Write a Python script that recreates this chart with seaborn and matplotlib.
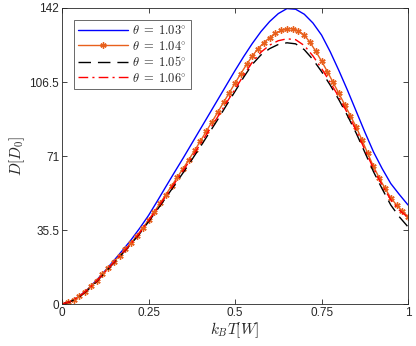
import numpy as np
import pandas as pd
import matplotlib
matplotlib.use("Agg")
import matplotlib.pyplot as plt
import seaborn as sns

# data
kT = [0, 0.025, 0.05, 0.075, 0.1, 0.125, 0.15, 0.175, 0.2, 0.225,
      0.25, 0.275, 0.3, 0.325, 0.35, 0.375, 0.4, 0.425, 0.45, 0.475,
      0.5, 0.525, 0.55, 0.575, 0.6, 0.625, 0.65, 0.675, 0.7, 0.725,
      0.75, 0.775, 0.8, 0.825, 0.85, 0.875, 0.9, 0.925, 0.95, 0.975, 1.0]

D_103 = [0, 1.3, 3.8, 7.3, 11.5, 16.1, 20.9, 25.8, 30.9, 36.5,
         42.5, 49.3, 56.3, 63.2, 70, 77, 84, 91, 98, 105,
         112, 118.7, 125, 130.7, 135.5, 139.3, 141.7, 141.4, 139, 134.8,
         129, 121, 112, 102.5, 92.5, 82.5, 73, 65, 57.8, 52.5, 47.5]

D_105 = [0, 1.2, 3.5, 6.8, 10.8, 15.3, 19.8, 24.3, 28.9, 33.9,
         39.5, 45.2, 51, 57, 63, 69.2, 75.5, 82, 88.5, 95.3,
         102, 108.8, 115, 119.5, 122.5, 124.5, 125.3, 124.8, 122, 117.3,
         111.5, 105, 98, 90.3, 82, 72.8, 63.5, 55.3, 47.5, 41.8, 37]

D_106 = [0, 1.3, 3.7, 7, 11, 15.5, 20, 24.5, 29.1, 34.3,
         40, 45.8, 51.8, 57.9, 64, 70.3, 76.8, 83.3, 89.8, 96.5,
         103, 109.8, 116, 120.8, 124.2, 126.3, 127.2, 126.8, 124, 119,
         113, 106.3, 99.3, 91.5, 83.3, 74, 65, 57, 50, 45, 41.5]

# theta = 1.04 is sampled more finely (one marker per sample)
kT_fine = [0, 0.0167, 0.0333, 0.05, 0.0667, 0.0833, 0.1, 0.1167, 0.1333, 0.15,
           0.1667, 0.1833, 0.2, 0.2167, 0.2333, 0.25, 0.2667, 0.2833, 0.3, 0.3167,
           0.3333, 0.35, 0.3667, 0.3833, 0.4, 0.4167, 0.4333, 0.45, 0.4667, 0.4833,
           0.5, 0.5167, 0.5333, 0.55, 0.5667, 0.5833, 0.6, 0.6167, 0.6333, 0.65,
           0.6667, 0.6833, 0.7, 0.7167, 0.7333, 0.75, 0.7667, 0.7833, 0.8, 0.8167,
           0.8333, 0.85, 0.8667, 0.8833, 0.9, 0.9167, 0.9333, 0.95, 0.9667, 0.9833,
           1.0]

D_104 = [0, 0.8, 2.1, 3.8, 6.0, 8.5, 11.3, 14.3, 17.3, 20.3,
         23.3, 26.3, 29.4, 32.9, 36.5, 40.3, 44.3, 48.3, 52.5, 56.7,
         60.9, 65, 69.3, 73.7, 78.2, 82.8, 87.4, 92, 96.7, 101.3,
         106, 110.5, 114.9, 119, 122.5, 125.4, 127.8, 129.8, 131.2, 132,
         132, 131, 129, 125.5, 121.2, 116.5, 111.5, 106.3, 101, 95.7,
         90.3, 85, 78.7, 72.3, 66, 60.5, 55.5, 51, 47.5, 44.6,
         42]

labels = [r"$\theta\;=\;1.03^{\circ}$", r"$\theta\;=\;1.04^{\circ}$",
          r"$\theta\;=\;1.05^{\circ}$", r"$\theta\;=\;1.06^{\circ}$"]

xticks = [0, 0.25, 0.5, 0.75, 1]
xticklabels = ["0", "0.25", "0.5", "0.75", "1"]
yticks = [0, 35.5, 71, 106.5, 142]
yticklabels = ["0", "35.5", "71", "106.5", "142"]

sns.set_style("ticks")
plt.rcParams["font.family"] = ["Liberation Sans", "DejaVu Sans"]
plt.rcParams["mathtext.fontset"] = "cm"

fig = plt.figure(figsize=(4.16, 3.46), dpi=100)
ax = fig.add_axes([0.149, 0.121, 0.832, 0.856])

sns.lineplot(x=kT, y=D_103, ax=ax, color="#0000ff", lw=1.0, label=labels[0])
sns.lineplot(x=kT_fine, y=D_104, ax=ax, color="#e8601c", lw=1.0,
             marker=(6, 2, 0), markersize=4.5, markeredgewidth=1.0,
             markeredgecolor="#e8601c", label=labels[1])
sns.lineplot(x=kT, y=D_105, ax=ax, color="black", lw=1.0, dashes=(9, 5),
             label=labels[2])
sns.lineplot(x=kT, y=D_106, ax=ax, color="#ff0000", lw=1.0,
             dashes=(7, 3, 1.5, 3), label=labels[3])

ax.set_xlim(0, 1)
ax.set_ylim(0, 142)
ax.set_xticks(xticks)
ax.set_xticklabels(xticklabels)
ax.set_yticks(yticks)
ax.set_yticklabels(yticklabels)
ax.tick_params(direction="in", top=True, right=True, length=3.5, width=0.6,
               labelsize=8.5, colors="#262626", pad=2)
for s in ax.spines.values():
    s.set_color("#262626")
    s.set_linewidth(0.6)
    s.set_visible(True)

ax.set_xlabel(r"$k_BT[W]$", fontsize=11, labelpad=1, color="#262626")
ax.set_ylabel(r"$D[D_0]$", fontsize=11, labelpad=2, color="#262626")

leg = ax.legend(loc="upper left", bbox_to_anchor=(0.035, 0.96), fontsize=9,
                handlelength=4.0, frameon=True, fancybox=False,
                borderpad=0.35, labelspacing=0.2, handletextpad=0.3,
                borderaxespad=0)
leg.get_frame().set_edgecolor("#262626")
leg.get_frame().set_linewidth(0.6)
# legend shows a single marker in the middle of the handle
leg.legend_handles[1].set_markevery([1])

fig.savefig("out.png", dpi=100)
